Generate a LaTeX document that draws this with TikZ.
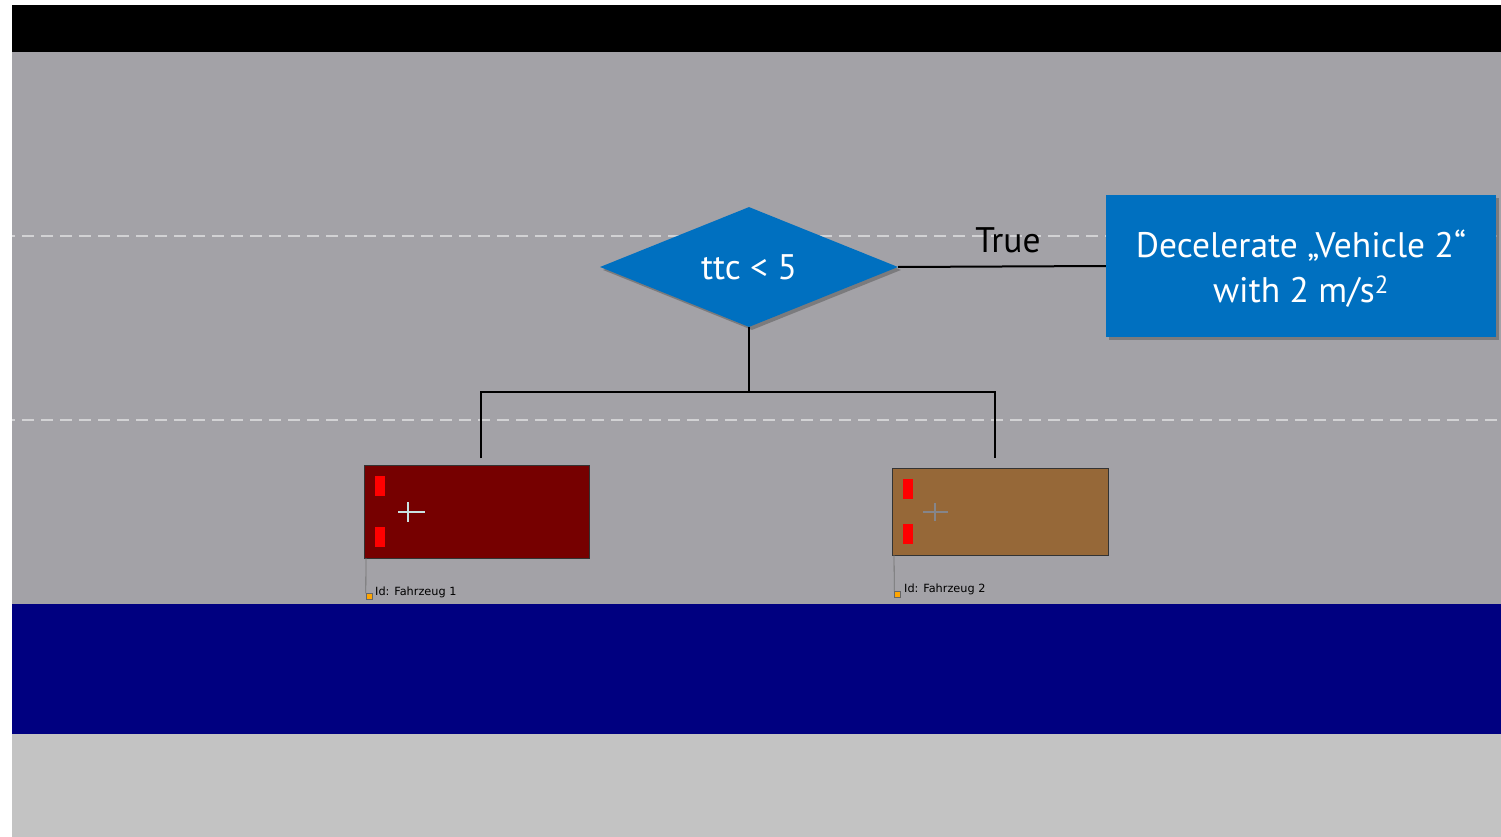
\documentclass[tikz,border=0pt]{standalone}
\usepackage{fontspec}
\setmainfont{PT Sans}
\newfontfamily\labelfont{DejaVu Sans}
\usetikzlibrary{shapes.geometric,shadows}
\definecolor{roadgray}{HTML}{A3A2A7}
\definecolor{lanecol}{HTML}{D2D2D4}
\definecolor{bluearea}{HTML}{000080}
\definecolor{lightarea}{HTML}{C3C3C3}
\definecolor{flowblue}{HTML}{0070C0}
\definecolor{carone}{HTML}{760000}
\definecolor{cartwo}{HTML}{966838}
\definecolor{crossone}{HTML}{C8E2E2}
\definecolor{crosstwo}{HTML}{85858A}
\definecolor{markorange}{HTML}{FFA500}
\tikzset{
  bigtext/.style={font=\fontsize{35.5}{45}\selectfont},
  flowshadow/.style={drop shadow={shadow xshift=3pt,shadow yshift=-3pt,opacity=0.45,fill=black!70}},
  conn/.style={draw=black,line width=2pt},
  lanemark/.style={draw=lanecol,line width=1.5pt,dash pattern=on 12pt off 7pt,dash phase=9pt},
  carbody/.style={draw=black!80,line width=1pt},
  lamp/.style={fill=red,draw=none},
  idline/.style={draw=black!55,line width=0.8pt},
  idmark/.style={fill=markorange,draw=black!60,line width=0.4pt,minimum size=6pt,inner sep=0pt},
  idtext/.style={font=\labelfont\fontsize{11.3}{13}\selectfont,text=black,anchor=base west,inner sep=0pt}
}
\begin{document}
\begin{tikzpicture}[x=1pt,y=-1pt]
\useasboundingbox (0,0) rectangle (1501,837);
\fill[white] (0,0) rectangle (1501,837);
% background areas
\fill[black] (12,5) rectangle (1501,52);
\fill[roadgray] (12,52) rectangle (1501,604);
\fill[bluearea] (12,604) rectangle (1501,734);
\fill[lightarea] (12,734) rectangle (1501,837);
% lane markings
\draw[lanemark] (12,236) -- (1501,236);
\draw[lanemark] (12,420) -- (1501,420);
% vehicles
\node[carbody,fill=carone,minimum width=225pt,minimum height=93pt,inner sep=0pt] (car1) at (476.5,511.5) {};
\fill[lamp] (375,476) rectangle (385,496);
\fill[lamp] (375,527) rectangle (385,547);
\draw[crossone,line width=1.2pt] (398,512) -- (425,512) (408,502) -- (408,522);
\node[carbody,fill=cartwo,minimum width=216pt,minimum height=87pt,inner sep=0pt] (car2) at (1000,511.5) {};
\fill[lamp] (903,479) rectangle (913,499);
\fill[lamp] (903,524) rectangle (913,544);
\draw[crosstwo,line width=1.2pt] (923,512) -- (948,512) (935,503) -- (935,521);
% id labels
\node[idmark] (m1) at (369,596.5) {};
\draw[idline] (366,558) -- (m1.north west);
\node[idtext] (id1) at (375,595.5) {Id: Fahrzeug 1};
\node[idmark] (m2) at (897.5,594.5) {};
\draw[idline] (894,555) -- (m2.north west);
\node[idtext] (id2) at (904,592.5) {Id: Fahrzeug 2};
% decision
\node[diamond,fill=flowblue,flowshadow,minimum width=298pt,minimum height=120pt,inner sep=0pt,aspect=2.5,text=white,bigtext] (d) at (749,267) {ttc < 5};
\node[fill=flowblue,flowshadow,minimum width=390pt,minimum height=142pt,inner sep=0pt,text=white,bigtext,align=center] (act) at (1301,266) {};
\node[text=white,bigtext,align=center,inner sep=0pt] (acttext) at (1301,269) {Decelerate „Vehicle 2“\\with 2 m/s\textsuperscript{2}};
\draw[conn] (d.east) -- (act.west);
\node[bigtext,text=black,inner sep=0pt] (tl) at (1008,240) {True};
% tree connectors
\coordinate (j) at (749,392);
\coordinate (t1) at (481,458);
\coordinate (t2) at (995,458);
\draw[conn] (d.south) -- (j);
\draw[conn] (t1) |- (j) -| (t2);
\end{tikzpicture}
\end{document}
